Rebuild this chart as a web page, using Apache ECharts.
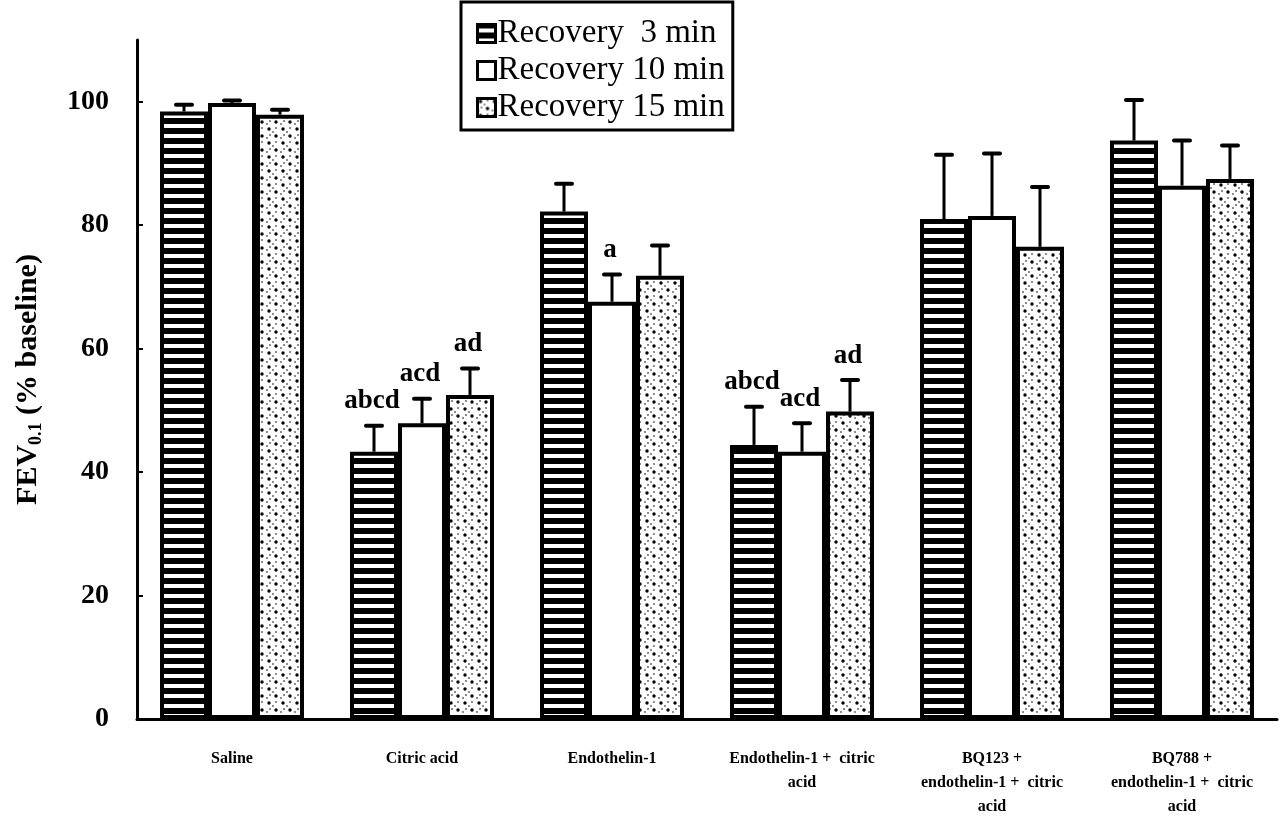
<!DOCTYPE html>
<html><head><meta charset="utf-8">
<script src="https://cdn.jsdelivr.net/npm/echarts@6/dist/echarts.min.js"></script>
<style>html,body{margin:0;padding:0;background:#fff}#c{width:1285px;height:823px}</style>
</head><body><div id="c"></div>
<script>
const categories = ['Saline', 'Citric acid', 'Endothelin-1', 'Endothelin-1 +  citric\nacid', 'BQ123 +\nendothelin-1 +  citric\nacid', 'BQ788 +\nendothelin-1 +  citric\nacid'];
const seriesNames = ['Recovery  3 min', 'Recovery 10 min', 'Recovery 15 min'];
const rec3 = [98.4, 43.3, 82.2, 44.4, 81.0, 93.7];
const rec3Err = [1.1, 4.2, 4.5, 6.2, 10.4, 6.6];
const rec10 = [99.8, 47.9, 67.6, 43.3, 81.5, 86.4];
const rec10Err = [0.4, 4.0, 4.4, 4.6, 10.1, 7.3];
const rec15 = [97.9, 52.5, 71.8, 49.8, 76.5, 87.5];
const rec15Err = [0.8, 4.3, 4.9, 5.1, 9.7, 5.4];
const sig3 = ['', 'abcd', '', 'abcd', '', ''];
const sig10 = ['', 'acd', 'a', 'acd', '', ''];
const sig15 = ['', 'ad', '', 'ad', '', ''];
const yTicks = [0, 20, 40, 60, 80, 100];

const BAR_W = 48;
const SERIF = '"Liberation Serif", "Times New Roman", serif';

function stripeCanvas() {
  const c = document.createElement('canvas'); c.width = 12; c.height = 10;
  const g = c.getContext('2d');
  g.fillStyle = '#000'; g.fillRect(0, 0, 12, 10);
  g.fillStyle = '#fff'; g.fillRect(0, 4, 12, 4);
  return c;
}
function dotCanvas() {
  const c = document.createElement('canvas'); c.width = 14; c.height = 14;
  const g = c.getContext('2d');
  g.fillStyle = '#fff'; g.fillRect(0, 0, 14, 14);
  g.fillStyle = '#000';
  const big = [[3, 3], [10, 10]];
  big.forEach(p => { g.beginPath(); g.arc(p[0], p[1], 1.7, 0, Math.PI * 2); g.fill(); });
  const small = [[10, 2], [4, 9], [7, 6], [1, 12]];
  small.forEach(p => { g.beginPath(); g.arc(p[0], p[1], 0.8, 0, Math.PI * 2); g.fill(); });
  return c;
}
const fills = [
  { image: stripeCanvas(), repeat: 'repeat' },
  '#fff',
  { image: dotCanvas(), repeat: 'repeat' }
];

function barSeries(k, vals) {
  return {
    type: 'bar', name: seriesNames[k], data: vals,
    barWidth: BAR_W, barGap: '0%',
    itemStyle: { color: fills[k], borderColor: '#000', borderWidth: 4 },
    z: 2
  };
}
function errSeries(k, vals, errs, sig) {
  return {
    type: 'custom', z: 5, silent: true,
    data: vals.map((v, i) => [i, v, errs[i]]),
    renderItem(params, api) {
      const i = api.value(0), v = api.value(1), e = api.value(2);
      const b = api.coord([i, v]);
      const t = api.coord([i, v + e]);
      const x = b[0] + (k - 1) * BAR_W;
      const ch = [
        { type: 'line', shape: { x1: x, y1: b[1], x2: x, y2: t[1] }, style: { stroke: '#000', lineWidth: 3 } },
        { type: 'line', shape: { x1: x - 8, y1: t[1], x2: x + 8, y2: t[1] }, style: { stroke: '#000', lineWidth: 4, lineCap: 'round' } }
      ];
      if (sig[i]) ch.push({ type: 'text', style: { text: sig[i], x: x - 2, y: t[1] - 11, align: 'center', verticalAlign: 'bottom', font: 'bold 27px ' + SERIF, fill: '#000' } });
      return { type: 'group', children: ch };
    }
  };
}

const chart = echarts.init(document.getElementById('c'), null, { renderer: 'canvas' });
chart.setOption({
  animation: false,
  backgroundColor: '#fff',
  grid: { left: 137, right: 8, top: 40, bottom: 104 },
  legend: {
    data: seriesNames, orient: 'vertical', left: 461, top: 2, icon: 'rect',
    padding: [15, 8, 6, 15], itemGap: 4, itemWidth: 18, itemHeight: 18,
    borderColor: '#000', borderWidth: 3, backgroundColor: '#fff',
    itemStyle: { borderColor: '#000', borderWidth: 3 },
    textStyle: { fontFamily: SERIF, fontSize: 33, color: '#000', padding: [0, 0, 0, -3] }
  },
  xAxis: {
    type: 'category', data: categories,
    axisLine: { lineStyle: { color: '#000', width: 3 } },
    axisTick: { inside: true, length: 5, lineStyle: { color: '#000', width: 2 } },
    axisLabel: { interval: 0, margin: 28, color: '#000', fontFamily: SERIF, fontWeight: 'bold', fontSize: 16, lineHeight: 24 }
  },
  yAxis: {
    type: 'value', min: 0, max: 110, interval: 20,
    splitLine: { show: false },
    axisLine: { show: true, lineStyle: { color: '#000', width: 3 } },
    axisTick: { show: true, inside: true, length: 6, customValues: yTicks, lineStyle: { color: '#000', width: 2 } },
    axisLabel: { customValues: yTicks, margin: 28, color: '#000', fontFamily: SERIF, fontWeight: 'bold', fontSize: 28 },
    name: '{m|FEV}{s|0.1}{m| (% baseline)}',
    nameLocation: 'middle', nameGap: 92, nameRotate: 90,
    nameTextStyle: {
      rich: {
        m: { fontFamily: SERIF, fontWeight: 'bold', fontSize: 30, lineHeight: 34, color: '#000' },
        s: { fontFamily: SERIF, fontWeight: 'bold', fontSize: 18, lineHeight: 18, verticalAlign: 'bottom', color: '#000' }
      }
    }
  },
  series: [
    barSeries(0, rec3), barSeries(1, rec10), barSeries(2, rec15),
    errSeries(0, rec3, rec3Err, sig3), errSeries(1, rec10, rec10Err, sig10), errSeries(2, rec15, rec15Err, sig15)
  ]
});
</script></body></html>
